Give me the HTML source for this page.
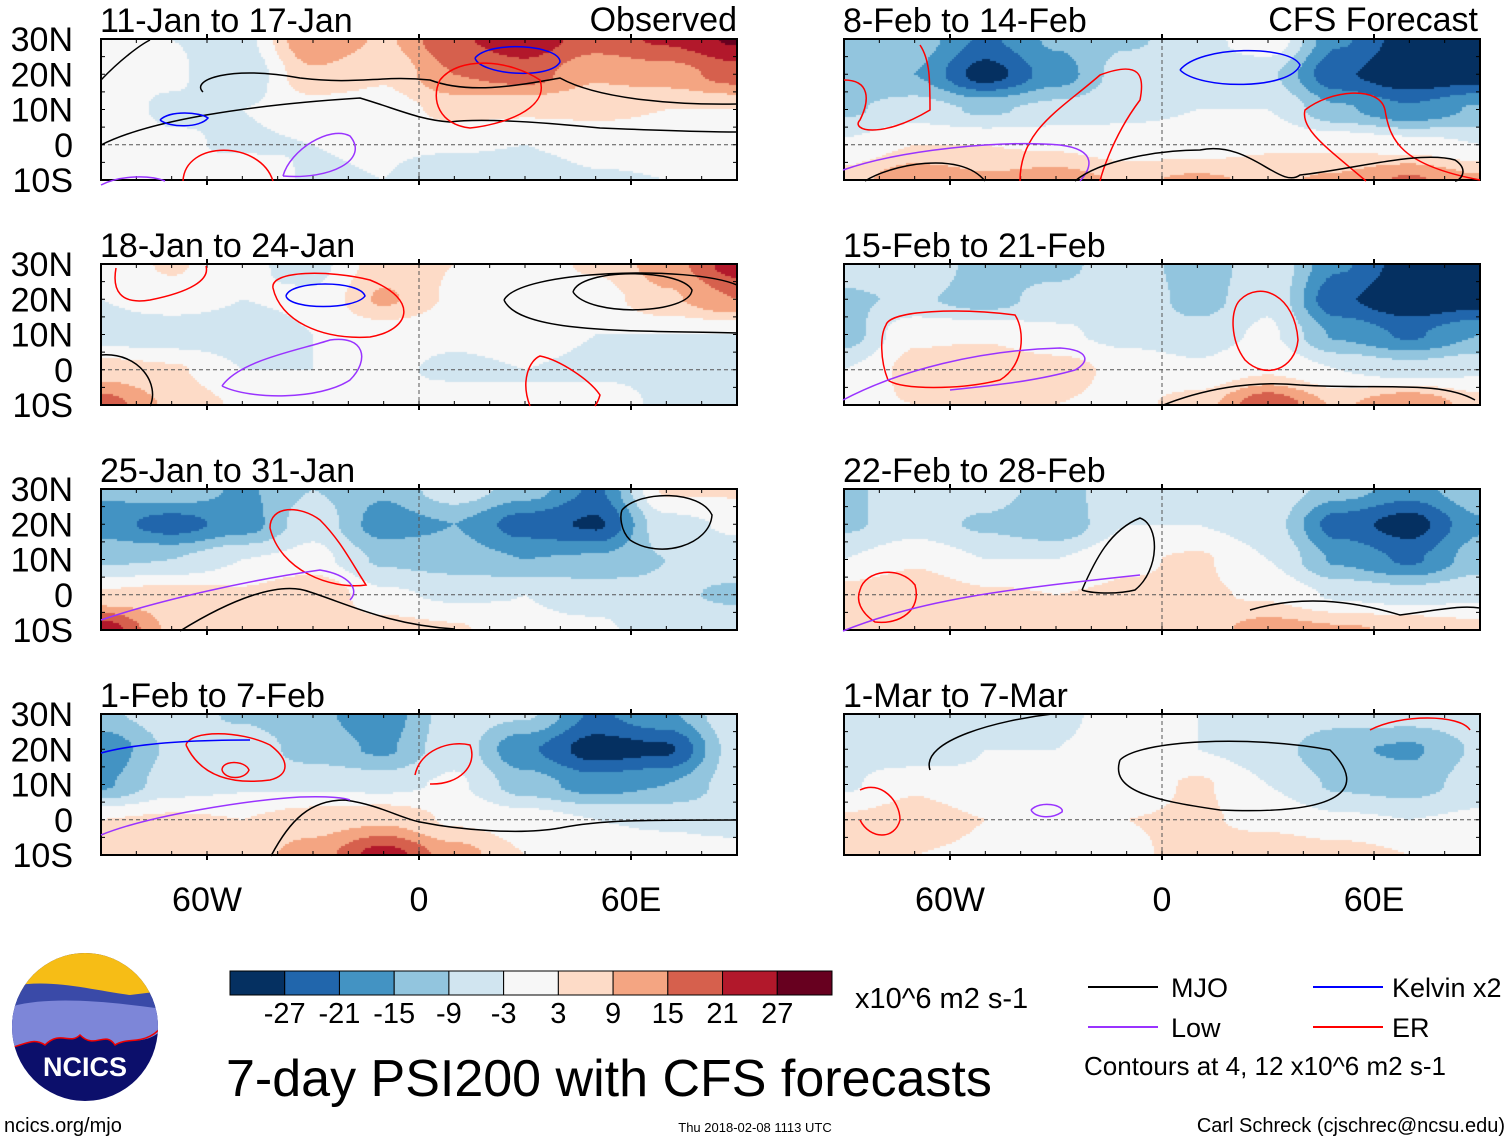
<!DOCTYPE html>
<html><head><meta charset="utf-8"><style>
html,body{margin:0;padding:0;background:#fff;}
body{width:1510px;height:1142px;position:relative;overflow:hidden;font-family:"Liberation Sans",Arial,sans-serif;}
canvas{position:absolute;}
</style></head><body>
<div id="root"></div>
<svg id="ov" width="1510" height="1142" style="position:absolute;left:0;top:0"></svg>
<script>
// ---- data ----
const lonCats=[-90,-70,-50,-30,-10,10,30,50,70,90];
const latCats=[30,20,10,0,-10];
const levels=[-27,-21,-15,-9,-3,3,9,15,21,27];
const levelLabels=["-27","-21","-15","-9","-3","3","9","15","21","27"];
const colors=["#053061","#2166ac","#4393c3","#92c5de","#d1e5f0","#f7f7f7","#fddbc7","#f4a582","#d6604d","#b2182b","#67001f"];
const titles=["11-Jan to 17-Jan","8-Feb to 14-Feb","18-Jan to 24-Jan","15-Feb to 21-Feb","25-Jan to 31-Jan","22-Feb to 28-Feb","1-Feb to 7-Feb","1-Mar to 7-Mar"];
const latLabels=["30N","20N","10N","0","10S"];
const lonTickLabels=["60W","0","60E"];
const lonTicks=[-60,0,60];
const psiP1=[[-3,-3,-5,15,8,20,25,18,22,28],[-3,-2,-8,8,4,15,18,10,12,18],[0,-4,-3,0,0,5,4,4,3,3],[2,-2,-4,-3,-2,-2,-3,0,0,0],[2,-3,2,-4,-3,-9,-9,-4,-3,-3]];
const psiP2=[[-10,-12,-22,-14,-10,-6,2,-20,-30,-28],[-12,-15,-30,-18,-6,-5,-8,-26,-32,-30],[-10,-6,-10,-7,-4,-3,-3,-14,-20,-14],[-2,3,3,2,-1,-1,2,2,0,-3],[6,14,10,12,8,10,8,10,16,10]];
const psiP3=[[-2,4,-2,-5,6,3,0,4,12,24],[-3,0,-3,-2,10,2,0,0,8,15],[-6,-7,-6,-3,-1,-2,-1,-3,-3,-3],[6,4,-3,-3,-2,-4,-3,-4,-4,-4],[18,8,2,-2,-3,0,-3,0,-4,-4]];
const psiP4=[[-6,-3,-12,-12,-3,-14,-4,-20,-30,-30],[-10,-8,-12,-6,-3,-12,-4,-26,-32,-30],[-12,2,2,-2,-5,-6,-2,-16,-22,-15],[-3,5,8,6,1,-2,2,-3,-6,-4],[2,3,6,3,1,6,20,8,15,6]];
const psiP5=[[-14,-10,-16,-9,-14,-5,-12,-22,4,4],[-18,-24,-18,-5,-18,-15,-24,-28,-5,-2],[-10,-9,-3,-1,-10,-12,-15,-14,-9,-6],[4,6,4,9,-2,-4,-3,-5,-8,-10],[25,8,3,8,6,4,-2,-2,-6,-5]];
const psiP6=[[-10,-6,-6,-12,-4,-3,-4,-12,-18,-10],[-10,-6,-10,-14,-3,-3,-6,-24,-30,-16],[-3,2,-3,-3,2,4,-3,-16,-22,-12],[6,8,4,3,4,4,2,-4,-6,-4],[4,6,3,3,3,6,12,10,8,5]];
const psiP7=[[-10,-6,-10,-14,-18,-6,-8,-22,-16,-4],[-20,-8,-5,-12,-16,-5,-20,-30,-28,-6],[-16,-6,-4,-4,-5,-2,-12,-18,-15,-6],[3,4,3,6,8,2,0,-3,-4,-6],[3,4,6,12,24,12,3,1,0,0]];
const psiP8=[[-5,-8,-3,-4,-1,-3,-4,-6,-6,-5],[-5,-8,-3,-3,-1,-3,-6,-14,-16,-8],[-4,2,-2,-2,-1,4,-3,-10,-12,-6],[4,6,3,2,3,4,1,-2,-3,-2],[3,3,2,1,2,5,8,6,3,2]];
const panels=[psiP1,psiP2,psiP3,psiP4,psiP5,psiP6,psiP7,psiP8];

// ---- layout ----
const colX=[101,844], rowY=[39,264,489,714], PW=636, PH=141;
const NS="http://www.w3.org/2000/svg";
const ov=document.getElementById('ov'), root=document.getElementById('root');
function xS(x0,lon){return x0+(lon+90)/180*PW;}
function yS(y0,lat){return y0+(30-lat)/40*PH;}
function colorOf(v){let i=0;while(i<levels.length&&v>=levels[i])i++;return colors[i];}
function sample(g,lon,lat){
  let fx=(lon-lonCats[0])/20, fy=(latCats[0]-lat)/10;
  fx=Math.max(0,Math.min(lonCats.length-1.0001,fx)); fy=Math.max(0,Math.min(latCats.length-1.0001,fy));
  const i=Math.floor(fx), j=Math.floor(fy); let tx=fx-i, ty=fy-j;
  tx=tx*tx*(3-2*tx); ty=ty*ty*(3-2*ty);
  const a=g[j][i],b=g[j][i+1],c=g[j+1][i],d=g[j+1][i+1];
  return a*(1-tx)*(1-ty)+b*tx*(1-ty)+c*(1-tx)*ty+d*tx*ty;
}
function el(tag,attrs,parent){const e=document.createElementNS(NS,tag);for(const k in attrs)e.setAttribute(k,attrs[k]);(parent||ov).appendChild(e);return e;}
function txt(s,x,y,size,anchor){const e=el('text',{x:x,y:y,'font-size':size,'font-family':'Liberation Sans, Arial, sans-serif','text-anchor':anchor||'start',fill:'#000'});e.textContent=s;return e;}

panels.forEach((g,p)=>{
  const x0=colX[p%2], y0=rowY[Math.floor(p/2)];
  const cv=document.createElement('canvas');
  cv.width=PW;cv.height=PH;cv.style.left=x0+'px';cv.style.top=y0+'px';
  
  
  root.appendChild(cv);
  const ctx=cv.getContext('2d');
  for(let py=0;py<PH;py+=2)for(let px=0;px<PW;px+=2){
    const lon=-90+(px+1)/PW*180, lat=30-(py+1)/PH*40;
    ctx.fillStyle=colorOf(sample(g,lon,lat));ctx.fillRect(px,py,2,2);
  }
  const grp=el('g',{});
  
  
  el('line',{x1:x0,x2:x0+PW,y1:yS(y0,0),y2:yS(y0,0),stroke:'#555','stroke-width':1,'stroke-dasharray':'4,3'},grp);
  el('line',{x1:xS(x0,0),x2:xS(x0,0),y1:y0,y2:y0+PH,stroke:'#555','stroke-width':1,'stroke-dasharray':'4,3'},grp);
  el('rect',{x:x0,y:y0,width:PW,height:PH,fill:'none',stroke:'#000','stroke-width':2},grp);
  for(let lon=-90;lon<=90;lon+=10){const x=xS(x0,lon);
    el('line',{x1:x,x2:x,y1:y0,y2:y0+4,stroke:'#000','stroke-width':1},grp);
    el('line',{x1:x,x2:x,y1:y0+PH,y2:y0+PH-4,stroke:'#000','stroke-width':1},grp);}
  lonTicks.forEach(lon=>{const x=xS(x0,lon);
    el('line',{x1:x,x2:x,y1:y0-5,y2:y0,stroke:'#000','stroke-width':2},grp);
    el('line',{x1:x,x2:x,y1:y0+PH,y2:y0+PH+5,stroke:'#000','stroke-width':2},grp);});
  for(let lat=-10;lat<=30;lat+=5){const y=yS(y0,lat);
    el('line',{x1:x0,x2:x0+4,y1:y,y2:y,stroke:'#000','stroke-width':1},grp);
    el('line',{x1:x0+PW,x2:x0+PW-4,y1:y,y2:y,stroke:'#000','stroke-width':1},grp);}
  const t=txt(titles[p],x0-1,y0-7,34);
  
  
  if(p%2===0){latCats.forEach((lat,i)=>{const l=txt(latLabels[i],73,yS(y0,lat)+12,34,'end');
    
    });}
});
// sketched contours (approximate)
const contourSketches=[
 {c:'#000',d:'M101,80 C120,60 140,45 150,40 M203,92 C190,80 230,65 300,78 C360,85 380,75 430,80 C470,95 520,85 560,78 C600,100 680,105 737,104'},
 {c:'#000',d:'M101,145 C150,120 250,105 360,98 C400,110 420,120 450,122 C480,118 540,122 600,128 C650,130 700,132 737,132'},
 {c:'#ff0000',d:'M183,181 C185,140 260,140 273,181'},
 {c:'#9933ff',d:'M283,176 C290,150 330,125 350,136 C370,160 330,180 283,176'},
 {c:'#9933ff',d:'M101,185 C120,175 150,175 165,181'},
 {c:'#0000ff',d:'M475,58 C490,40 560,45 560,62 C550,80 480,75 475,58'},
 {c:'#0000ff',d:'M160,120 C170,110 200,112 208,118 C200,128 170,128 160,120'},
 {c:'#ff0000',d:'M440,80 C460,55 510,60 540,80 C550,110 500,125 470,128 C440,125 430,100 440,80'},
 {c:'#ff0000',d:'M844,80 C870,80 870,100 860,120 C850,130 880,140 930,110 C930,80 930,60 920,45'},
 {c:'#ff0000',d:'M1020,181 C1020,130 1060,110 1100,75 C1140,60 1145,75 1140,100 C1110,140 1100,181 1100,181'},
 {c:'#ff0000',d:'M1366,181 C1330,150 1300,130 1305,110 C1330,90 1380,85 1385,110 C1390,140 1400,165 1480,180'},
 {c:'#0000ff',d:'M1180,70 C1200,45 1290,45 1300,65 C1290,90 1200,90 1180,70'},
 {c:'#9933ff',d:'M843,170 C900,150 1000,140 1060,145 C1100,150 1090,170 1080,181'},
 {c:'#000',d:'M865,181 C890,165 960,150 985,181 M1075,181 C1100,160 1160,150 1200,150 C1250,140 1280,190 1300,175 C1350,170 1420,150 1455,160 C1470,170 1460,181 1455,181'},
 {c:'#000',d:'M504,300 C520,270 690,265 737,285 M504,300 C520,335 640,330 737,333'},
 {c:'#000',d:'M573,292 C580,268 680,268 692,290 C690,314 590,318 573,292'},
 {c:'#ff0000',d:'M116,268 C112,290 120,305 150,300 C190,292 210,280 206,266'},
 {c:'#ff0000',d:'M273,288 C270,270 330,270 370,280 C420,300 410,330 370,337 C320,340 280,320 273,288'},
 {c:'#0000ff',d:'M286,296 C290,280 360,280 365,296 C355,310 290,310 286,296'},
 {c:'#9933ff',d:'M222,386 C240,360 300,350 330,340 C365,335 370,360 350,380 C320,400 250,400 222,386'},
 {c:'#000',d:'M101,355 C140,352 160,385 150,406'},
 {c:'#ff0000',d:'M530,406 C520,380 530,360 540,356 C560,360 590,380 600,395 C598,402 595,406 595,406'},
 {c:'#ff0000',d:'M270,528 C270,505 300,505 320,520 C340,540 350,560 366,585 C330,590 280,570 270,528'},
 {c:'#000',d:'M622,510 C640,490 700,490 712,515 C710,545 660,560 630,540 C620,530 620,515 622,510'},
 {c:'#000',d:'M180,631 C230,600 280,580 310,592 C350,605 390,625 455,629'},
 {c:'#9933ff',d:'M101,620 C160,600 250,580 320,570 C350,575 360,590 350,600'},
 {c:'#ff0000',d:'M886,325 C890,310 960,308 1015,315 C1025,330 1025,365 1000,380 C960,390 900,390 888,380 C880,360 880,335 886,325'},
 {c:'#ff0000',d:'M1240,300 C1260,280 1295,295 1298,340 C1295,370 1265,380 1245,360 C1230,340 1230,310 1240,300'},
 {c:'#000',d:'M1161,406 C1200,390 1250,380 1300,385 C1380,390 1440,380 1475,400'},
 {c:'#9933ff',d:'M843,400 C900,370 980,350 1060,348 C1090,350 1090,362 1075,370 C1040,380 1000,385 950,390'},
 {c:'#ff0000',d:'M860,590 C865,570 900,565 915,585 C922,610 900,625 875,622 C860,612 856,600 860,590'},
 {c:'#000',d:'M1082,590 C1095,560 1110,530 1140,518 C1160,525 1160,570 1135,590 C1115,595 1090,593 1082,590'},
 {c:'#9933ff',d:'M843,631 C920,600 1000,590 1140,575'},
 {c:'#000',d:'M1250,610 C1300,595 1350,600 1400,615 C1440,610 1460,605 1480,608'},
 {c:'#ff0000',d:'M186,745 C190,730 240,730 270,745 C290,760 290,775 270,780 C230,785 200,775 186,745'},
 {c:'#ff0000',d:'M222,770 C222,760 245,760 249,770 C245,780 225,780 222,770'},
 {c:'#0000ff',d:'M101,753 C130,745 180,740 250,740'},
 {c:'#ff0000',d:'M415,775 C420,750 450,740 470,745 C478,765 460,785 430,784'},
 {c:'#000',d:'M271,856 C290,820 310,800 345,800 C380,805 400,818 420,822 C460,830 520,835 560,828 C600,820 640,820 737,820'},
 {c:'#9933ff',d:'M101,835 C150,815 250,800 300,797 C330,796 345,798 350,800'},
 {c:'#000',d:'M930,770 C920,740 1000,720 1052,714'},
 {c:'#000',d:'M1120,760 C1140,740 1250,735 1330,750 C1370,790 1340,815 1220,810 C1150,800 1110,790 1120,760'},
 {c:'#ff0000',d:'M1370,730 C1400,714 1460,714 1470,730'},
 {c:'#9933ff',d:'M1031,810 C1040,800 1065,805 1062,812 C1050,820 1035,817 1031,810'},
 {c:'#ff0000',d:'M860,790 C880,780 900,800 900,820 C895,840 870,840 860,820'},
];
contourSketches.forEach(s=>{const e=el('path',{d:s.d,fill:'none',stroke:s.c,'stroke-width':1.5});
  
  });
[101,844].forEach(x0=>{lonTicks.forEach((lon,i)=>{const l=txt(lonTickLabels[i],xS(x0,lon),911,34,'middle');
  
  });});
let h=txt('Observed',737,31,34,'end');
h=txt('CFS Forecast',1478,31,34,'end');
const cbX=230,cbW=602,cbY=971,cbH=24,cw=cbW/colors.length;
colors.forEach((c,i)=>{const r=el('rect',{x:cbX+i*cw,y:cbY,width:cw,height:cbH,fill:c,stroke:'#000','stroke-width':1});
  
  });
levelLabels.forEach((s,i)=>{const l=txt(s,cbX+(i+1)*cw,1023,29,'middle');
  
  });
h=txt('x10^6 m2 s-1',855,1008,29);
h=txt('7-day PSI200 with CFS forecasts',226,1096,52);
const leg=[['MJO','#000',1088,1171,997],['Low','#9933ff',1088,1171,1037],['Kelvin x2','#0000ff',1313,1392,997],['ER','#ff0000',1313,1392,1037]];
leg.forEach(L=>{const ln=el('line',{x1:L[2],x2:L[2]+70,y1:L[4]-10,y2:L[4]-10,stroke:L[1],'stroke-width':2});
  
  
  const t=txt(L[0],L[3],L[4],27);
  
  });
h=txt('Contours at 4, 12 x10^6 m2 s-1',1084,1075,26);
h=txt('ncics.org/mjo',4,1132,20);
h=txt('Thu 2018-02-08 1113 UTC',755,1132,13,'middle');
h=txt('Carl Schreck (cjschrec@ncsu.edu)',1505,1132,20,'end');
const lg=el('g',{});


el('defs',{},lg).innerHTML='<clipPath id="lc"><ellipse cx="85" cy="1027" rx="73" ry="74"/></clipPath>';
const lc=el('g',{'clip-path':'url(#lc)'},lg);
el('rect',{x:0,y:950,width:170,height:160,fill:'#0c0f6b'},lc);
el('rect',{x:0,y:950,width:170,height:45,fill:'#f6bd16'},lc);
el('path',{d:'M0,990 C40,975 90,990 130,995 L170,990 L170,1015 L0,1030 Z',fill:'#3a4aa8'},lc);
el('path',{d:'M0,1010 C40,995 100,1000 170,1010 L170,1020 C150,1050 130,1035 115,1045 C105,1030 95,1050 80,1035 C70,1045 60,1030 45,1045 C30,1035 20,1050 0,1048 Z',fill:'#7d86d8'},lc);
el('path',{d:'M0,1048 C20,1050 30,1035 45,1045 C60,1030 70,1045 80,1035 C95,1050 105,1030 115,1045 C130,1035 150,1050 170,1015',fill:'none',stroke:'#e00','stroke-width':1.5},lc);
const nt=el('text',{x:85,y:1076,'font-size':27,'font-weight':'bold','font-family':'Liberation Sans, Arial, sans-serif','text-anchor':'middle',fill:'#fff'},lg);
nt.textContent='NCICS';
</script>
</body></html>
